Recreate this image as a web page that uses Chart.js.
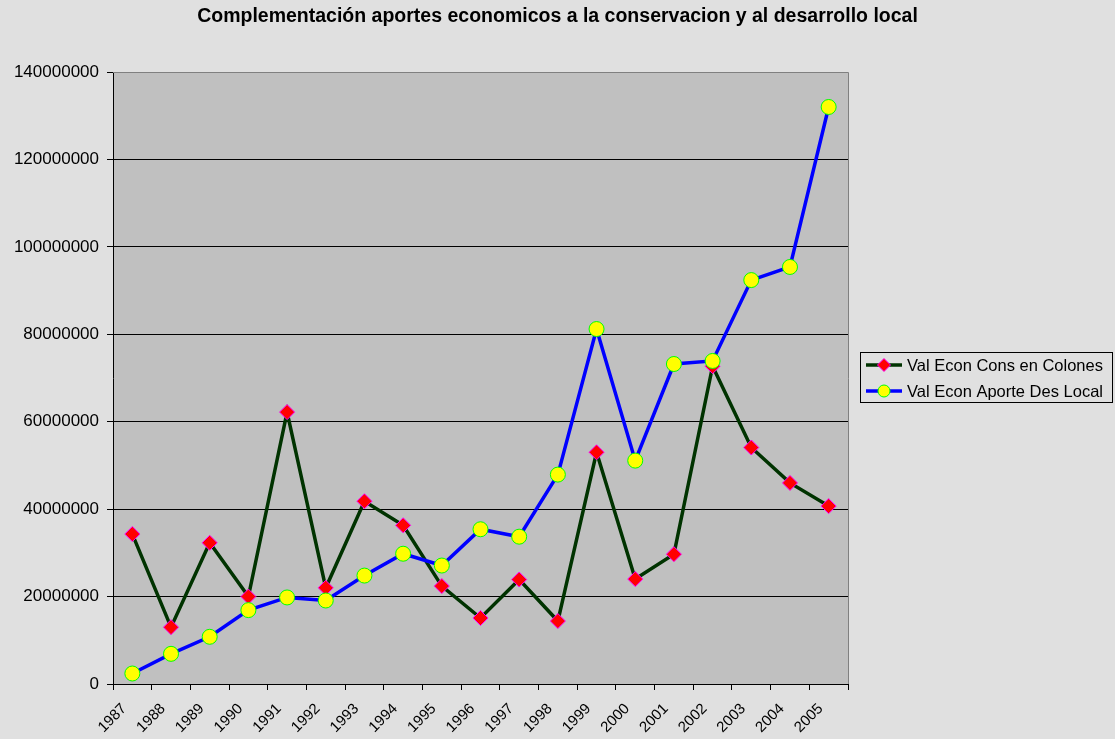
<!DOCTYPE html>
<html>
<head>
<meta charset="utf-8">
<script src="https://cdn.jsdelivr.net/npm/chart.js@4"></script>
<style>
html,body{margin:0;padding:0;background:#e0e0e0;}
canvas{display:block;}
</style>
</head>
<body>
<canvas id="c" width="1115" height="739"></canvas>
<script>
const titleText = "Complementación aportes economicos a la conservacion y al desarrollo local";
const years = ["1987","1988","1989","1990","1991","1992","1993","1994","1995","1996","1997","1998","1999","2000","2001","2002","2003","2004","2005"];
const consLabel = "Val Econ Cons en Colones";
const aporteLabel = "Val Econ Aporte Des Local";
const consValues = [34300000,13000000,32300000,20000000,62200000,22000000,41800000,36300000,22400000,15100000,23900000,14400000,53000000,24000000,29700000,72700000,54100000,46000000,40700000];
const aporteValues = [2400000,6900000,10800000,16900000,19800000,19100000,24800000,29800000,27100000,35400000,33700000,47900000,81200000,51100000,73200000,73900000,92400000,95400000,132000000];
const yMax = 140000000;
const yStep = 20000000;

const FONT = '"Liberation Sans", Arial, sans-serif';

const decor = {
  id: 'decor',
  beforeDraw(chart) {
    const ctx = chart.ctx, a = chart.chartArea;
    ctx.save();
    ctx.fillStyle = '#e0e0e0';
    ctx.fillRect(0, 0, chart.width, chart.height);
    ctx.fillStyle = '#c0c0c0';
    ctx.fillRect(a.left, a.top, a.right - a.left, a.bottom - a.top);
    ctx.restore();
  },
  afterDraw(chart) {
    const ctx = chart.ctx, a = chart.chartArea;
    ctx.save();
    // plot border top/right
    ctx.strokeStyle = '#808080';
    ctx.lineWidth = 1;
    ctx.beginPath();
    ctx.moveTo(a.left, a.top + 0.5);
    ctx.lineTo(a.right + 0.5, a.top + 0.5);
    ctx.lineTo(a.right + 0.5, a.bottom);
    ctx.stroke();
    // title
    ctx.fillStyle = '#000';
    ctx.font = 'bold 19.5px ' + FONT;
    ctx.textAlign = 'center';
    ctx.textBaseline = 'alphabetic';
    ctx.fillText(titleText, chart.width / 2, 22);
    // legend
    const bx = 860.5, by = 352.5, bw = 252, bh = 50;
    ctx.strokeStyle = '#000';
    ctx.lineWidth = 1;
    ctx.strokeRect(bx, by, bw, bh);
    const rows = [
      {label: consLabel, ds: chart.data.datasets[0], y: 365},
      {label: aporteLabel, ds: chart.data.datasets[1], y: 391}
    ];
    rows.forEach(r => {
      ctx.strokeStyle = r.ds.borderColor;
      ctx.lineWidth = 3.5;
      ctx.beginPath();
      ctx.moveTo(866, r.y);
      ctx.lineTo(902, r.y);
      ctx.stroke();
      ctx.fillStyle = r.ds.pointBackgroundColor;
      ctx.strokeStyle = r.ds.pointBorderColor;
      ctx.lineWidth = 1;
      ctx.beginPath();
      if (r.ds.pointStyle === 'circle') {
        ctx.arc(884, r.y, 6, 0, Math.PI * 2);
      } else {
        ctx.moveTo(884, r.y - 6.5); ctx.lineTo(890.5, r.y); ctx.lineTo(884, r.y + 6.5); ctx.lineTo(877.5, r.y); ctx.closePath();
      }
      ctx.fill(); ctx.stroke();
      ctx.fillStyle = '#000';
      ctx.font = '16.5px ' + FONT;
      ctx.textAlign = 'left';
      ctx.textBaseline = 'middle';
      ctx.fillText(r.label, 907, r.y + 1);
    });
    ctx.restore();
  }
};

new Chart(document.getElementById('c'), {
  type: 'line',
  data: {
    labels: years,
    datasets: [
      {
        label: consLabel,
        data: consValues,
        borderColor: '#003300',
        borderWidth: 3.5,
        pointStyle: 'rectRot',
        pointRadius: 7.5,
        pointBackgroundColor: '#ff0000',
        pointBorderColor: '#ff00ff',
        pointBorderWidth: 1,
        backgroundColor: '#ff0000',
        tension: 0,
        order: 1
      },
      {
        label: aporteLabel,
        data: aporteValues,
        borderColor: '#0000ff',
        borderWidth: 3.5,
        pointStyle: 'circle',
        pointRadius: 7.5,
        pointBackgroundColor: '#ffff00',
        pointBorderColor: '#00ff00',
        pointBorderWidth: 1,
        backgroundColor: '#ffff00',
        tension: 0,
        order: 0
      }
    ]
  },
  options: {
    responsive: false,
    animation: false,
    devicePixelRatio: 1,
    layout: { padding: { top: 72, right: 267, left: 0, bottom: 0 } },
    plugins: {
      legend: { display: false },
      title: { display: false },
      tooltip: { enabled: false }
    },
    scales: {
      x: {
        type: 'category',
        offset: true,
        grid: { offset: true, drawOnChartArea: false, drawTicks: true, tickLength: 6, color: '#000', lineWidth: 1 },
        border: { color: '#000', width: 1 },
        ticks: {
          color: '#000',
          font: { family: FONT, size: 15 },
          maxRotation: 45, minRotation: 45,
          autoSkip: false,
          padding: 10,
          labelOffset: -8
        },
        afterFit(s) { s.height = 55; }
      },
      y: {
        min: 0, max: yMax,
        grid: {
          color: ctx => (ctx.tick && ctx.tick.value === yMax) ? '#808080' : '#000000',
          tickColor: '#000',
          lineWidth: 1,
          tickLength: 6
        },
        border: { color: '#000', width: 1 },
        ticks: {
          stepSize: yStep,
          color: '#000',
          font: { family: FONT, size: 17 },
          padding: 8,
          callback: v => String(v)
        },
        afterFit(s) { s.width = 113; }
      }
    }
  },
  plugins: [decor]
});
</script>
</body>
</html>
